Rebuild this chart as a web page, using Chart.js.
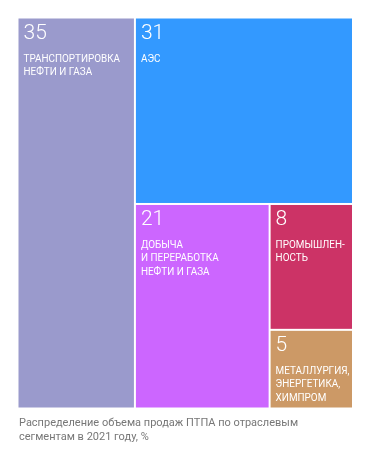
<!DOCTYPE html>
<html>
<head>
<meta charset="utf-8">
<script src="https://cdn.jsdelivr.net/npm/chart.js@4"></script>
<style>
  html, body { margin: 0; padding: 0; background: #fff; }
  #wrap { position: relative; width: 371px; height: 459px; }
  #caption {
    position: absolute; left: 19px; top: 416px;
    font: 11px/13.5px Roboto, sans-serif; color: #777;
  }
</style>
</head>
<body>
<div id="wrap">
  <canvas id="tree" width="371" height="459"></canvas>
  <div id="caption">Распределение объема продаж ПТПА по отраслевым<br>сегментам в 2021 году, %</div>
</div>
<script>
// ── data ──
const values = [35, 31, 21, 8, 5];
const labels = [
    ['ТРАНСПОРТИРОВКА', 'НЕФТИ И ГАЗА'],
    ['АЭС'],
    ['ДОБЫЧА', 'И ПЕРЕРАБОТКА', 'НЕФТИ И ГАЗА'],
    ['ПРОМЫШЛЕН-', 'НОСТЬ'],
    ['МЕТАЛЛУРГИЯ,', 'ЭНЕРГЕТИКА,', 'ХИМПРОМ'],
];
const colors = ['#9a9acc', '#3399ff', '#cc66ff', '#cc3366', '#cc9966'];

// alternating slice layout in data units (0..100 on both axes)
function layout(vals) {
    const r = { x0: 0, y0: 0, x1: 100, y1: 100 };
    let rest = vals.reduce((a, b) => a + b, 0);
    let vertical = true;
    return vals.map(v => {
        const f = v / rest;
        let cell;
        if (vertical) {
            const w = (r.x1 - r.x0) * f;
            cell = { x0: r.x0, y0: r.y0, x1: r.x0 + w, y1: r.y1 };
            r.x0 += w;
        } else {
            const h = (r.y1 - r.y0) * f;
            cell = { x0: r.x0, y0: r.y0, x1: r.x1, y1: r.y0 + h };
            r.y0 += h;
        }
        rest -= v;
        vertical = !vertical;
        return cell;
    });
}
const cells = layout(values);

// ── treemap drawing plugin ──
const treePlugin = {
    id: 'tree',
    afterDatasetsDraw(chart) {
        const { ctx, scales: { x, y } } = chart;
        ctx.save();
        cells.forEach((c, i) => {
            const l = x.getPixelForValue(c.x0) + 1;
            const r = x.getPixelForValue(c.x1) - 1;
            const t = y.getPixelForValue(c.y0) + 1;
            const b = y.getPixelForValue(c.y1) - 1;
            ctx.fillStyle = colors[i];
            ctx.fillRect(l, t, r - l, b - t);

            ctx.fillStyle = '#fff';
            ctx.textAlign = 'left';
            ctx.textBaseline = 'alphabetic';
            ctx.font = '300 21px Roboto, sans-serif';
            ctx.fillText(String(values[i]), l + 5, t + 20.5);
            // labels use a slightly narrowed face
            ctx.save();
            ctx.translate(l + 5, t + 43);
            ctx.scale(0.9, 1);
            ctx.font = '11px Roboto, sans-serif';
            labels[i].forEach((line, k) => {
                ctx.fillText(line, 0, k * 13.5);
            });
            ctx.restore();
        });
        ctx.restore();
    }
};

new Chart(document.getElementById('tree'), {
    type: 'scatter',
    data: { datasets: [{ data: [] }] },
    options: {
        responsive: false,
        animation: false,
        layout: {
            padding: { left: 17.5, top: 17.5, right: 18, bottom: 50.5 }
        },
        plugins: {
            legend: { display: false },
            tooltip: { enabled: false }
        },
        scales: {
            x: { type: 'linear', min: 0, max: 100, display: false },
            y: { type: 'linear', min: 0, max: 100, reverse: true, display: false }
        }
    },
    plugins: [treePlugin]
});
</script>
</body>
</html>
